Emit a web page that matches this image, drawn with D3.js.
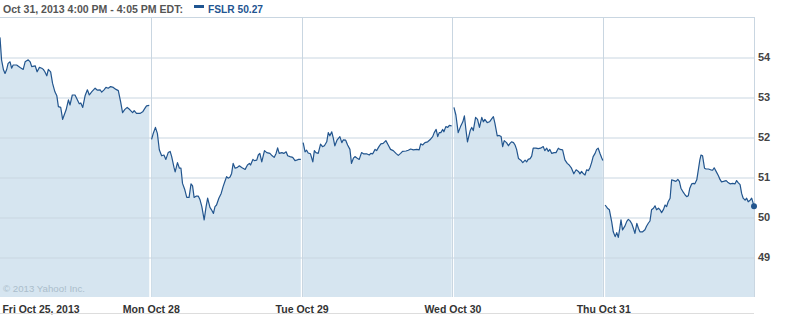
<!DOCTYPE html>
<html>
<head>
<meta charset="utf-8">
<script src="https://cdn.jsdelivr.net/npm/d3@7"></script>
<style>
  html, body { margin: 0; padding: 0; background: #fff; }
  svg { display: block; }
  text { font-family: "Liberation Sans", Arial, sans-serif; }
</style>
</head>
<body>
<svg id="chart" width="794" height="315"></svg>
<script>
// ---- DATA ----
const headerLabel = "Oct 31, 2013 4:00 PM - 4:05 PM EDT:";
const seriesName = "FSLR";
const lastPrice = 50.27;
const dayLabels = ["Fri Oct 25, 2013", "Mon Oct 28", "Tue Oct 29", "Wed Oct 30", "Thu Oct 31"];
const priceTicks = [49, 50, 51, 52, 53, 54];
const minutesPerSession = 390;
const copyright = "\u00A9 2013 Yahoo! Inc.";

// [minutes after 9:30 open, price]
const oct25 = [[0,54.49],[4,53.93],[9,53.68],[13,53.59],[17,53.68],[21,53.84],[26,53.88],[30,53.72],[34,53.8],[43,53.8],[52,53.74],[60,53.69],[65,53.88],[73,53.93],[78,53.88],[82,53.76],[91,53.78],[96,53.63],[102,53.74],[108,53.72],[112,53.69],[116,53.63],[121,53.53],[125,53.69],[131,53.63],[136,53.34],[142,53.13],[147,53.03],[151,52.76],[157,52.74],[162,52.44],[166,52.55],[171,52.68],[177,52.93],[181,52.8],[187,53.05],[194,53.05],[200,52.93],[205,52.83],[209,52.85],[214,52.74],[220,53.03],[226,53.18],[231,53.05],[237,53.13],[246,53.22],[252,53.17],[259,53.18],[263,53.12],[269,53.18],[274,53.24],[280,53.22],[286,53.26],[293,53.24],[300,53.19],[306,53.16],[312,52.88],[317,52.61],[323,52.69],[329,52.74],[336,52.68],[343,52.61],[347,52.66],[353,52.59],[362,52.59],[369,52.63],[375,52.72],[379,52.78],[386,52.79]];
const oct28 = [[2,51.94],[6,52.08],[12,52.24],[17,52.09],[22,51.68],[28,51.53],[34,51.55],[39,51.44],[45,51.61],[50,51.64],[54,51.51],[60,51.24],[63,51.13],[69,51.36],[74,51.22],[78,51.22],[82,50.84],[88,50.68],[93,50.49],[99,50.49],[104,50.83],[108,50.78],[112,50.49],[117,50.52],[123,50.52],[127,50.44],[132,50.26],[138,49.93],[143,50.26],[147,50.47],[153,50.24],[157,50.18],[162,50.09],[166,50.26],[170,50.3],[176,50.47],[182,50.59],[187,50.76],[192,50.9],[196,51.01],[200,50.97],[205,51.0],[209,51.09],[213,51.34],[218,51.22],[224,51.24],[229,51.28],[235,51.24],[244,51.19],[250,51.3],[255,51.34],[258,51.3],[264,51.44],[268,51.41],[274,51.42],[278,51.55],[282,51.59],[287,51.38],[294,51.66],[300,51.61],[308,51.59],[314,51.53],[319,51.49],[324,51.59],[328,51.73],[332,51.59],[339,51.61],[344,51.59],[350,51.63],[354,51.53],[360,51.51],[367,51.49],[373,51.41],[377,51.42],[382,51.44],[388,51.44]];
const oct29 = [[4,51.86],[9,51.63],[13,51.67],[17,51.6],[23,51.58],[29,51.38],[33,51.66],[37,51.61],[43,51.59],[49,51.82],[54,51.76],[59,51.78],[65,51.88],[69,52.11],[73,52.03],[78,52.13],[82,51.97],[86,51.78],[92,51.93],[99,52.01],[104,51.86],[108,51.93],[114,51.92],[119,51.8],[125,51.69],[129,51.34],[134,51.47],[138,51.51],[144,51.47],[149,51.44],[155,51.61],[160,51.58],[168,51.58],[175,51.55],[179,51.59],[184,51.58],[190,51.69],[194,51.66],[200,51.76],[205,51.83],[211,51.84],[218,51.91],[224,51.8],[230,51.69],[237,51.66],[244,51.59],[250,51.54],[256,51.59],[261,51.64],[270,51.65],[276,51.67],[282,51.7],[289,51.68],[298,51.69],[304,51.68],[308,51.83],[313,51.8],[319,51.86],[326,51.88],[332,51.93],[339,52.01],[343,52.11],[348,52.19],[352,52.01],[356,52.11],[360,52.11],[365,52.19],[368,52.13],[373,52.26],[378,52.24],[382,52.29],[388,52.28]];
const oct30 = [[4,52.74],[9,52.55],[15,52.11],[21,52.26],[27,52.38],[31,52.53],[35,52.18],[39,51.88],[46,52.16],[50,52.24],[54,52.16],[60,52.49],[65,52.44],[70,52.24],[76,52.49],[80,52.38],[84,52.44],[90,52.36],[96,52.38],[102,52.46],[106,52.51],[110,52.34],[116,52.03],[121,52.04],[126,52.01],[130,51.76],[134,51.91],[140,51.86],[145,51.78],[149,51.84],[153,51.88],[158,51.86],[162,51.8],[166,51.69],[171,51.46],[177,51.42],[182,51.36],[188,51.42],[192,51.38],[196,51.44],[201,51.46],[205,51.52],[209,51.72],[216,51.72],[222,51.71],[228,51.72],[235,51.76],[239,51.66],[244,51.72],[248,51.64],[252,51.69],[257,51.59],[263,51.61],[268,51.61],[274,51.72],[278,51.69],[285,51.68],[291,51.43],[297,51.34],[302,51.3],[308,51.22],[314,51.08],[320,51.18],[326,51.14],[330,51.08],[334,51.14],[339,51.08],[343,51.05],[347,51.18],[352,51.16],[356,51.24],[360,51.36],[364,51.51],[369,51.59],[373,51.69],[377,51.72],[382,51.58],[386,51.48],[389,51.41]];
const oct31 = [[5,50.3],[11,50.22],[16,50.18],[22,49.88],[26,49.63],[31,49.51],[35,49.61],[39,49.49],[43,49.72],[46,49.93],[50,49.68],[56,49.77],[61,49.89],[65,49.94],[69,49.91],[74,49.83],[78,49.72],[82,49.59],[87,49.84],[91,49.72],[95,49.63],[102,49.63],[108,49.68],[112,49.77],[117,49.85],[121,49.9],[125,50.18],[130,50.22],[134,50.28],[138,50.18],[143,50.22],[147,50.18],[151,50.11],[156,50.19],[160,50.3],[164,50.26],[168,50.38],[173,50.47],[177,50.93],[183,50.91],[188,50.89],[193,50.94],[197,50.89],[201,50.72],[207,50.62],[212,50.55],[216,50.51],[220,50.53],[224,50.72],[229,50.83],[233,50.84],[237,50.83],[242,50.93],[246,51.18],[250,51.43],[253,51.55],[257,51.53],[262,51.22],[266,51.2],[272,51.2],[278,51.18],[283,51.17],[287,51.23],[292,51.14],[298,51.03],[302,50.94],[306,50.88],[311,50.89],[318,50.91],[322,50.87],[328,50.83],[335,50.84],[341,50.83],[345,50.91],[349,50.86],[354,50.81],[358,50.59],[362,50.47],[367,50.42],[371,50.47],[375,50.38],[380,50.42],[384,50.47],[388,50.34],[390,50.27]];
const sessions = [oct25, oct28, oct29, oct30, oct31];

// ---- LAYOUT ----
const svg = d3.select("#chart");
const plot = { left: 0, right: 754, top: 17, bottom: 297 };

const x = d3.scaleLinear()
  .domain([0, sessions.length * minutesPerSession])
  .range([plot.left, plot.right]);
const y = d3.scaleLinear()
  .domain([48, 55])
  .range([plot.bottom, plot.top]);

const gridColor = "#c9d6e1";
const lineColor = "#22558e";
const fillColor = "#d6e5f0";

// day separator lines (under the fill)
const dayStarts = sessions.map((_, i) => i * minutesPerSession);
svg.append("g")
  .selectAll("line")
  .data(dayStarts.slice(1))
  .join("line")
  .attr("x1", d => Math.round(x(d)) + 0.5)
  .attr("x2", d => Math.round(x(d)) + 0.5)
  .attr("y1", plot.top)
  .attr("y2", plot.bottom)
  .attr("stroke", gridColor);

// areas per session
const area = d3.area()
  .x(d => x(d[0]))
  .y0(y(48))
  .y1(d => y(d[1]));
const line = d3.line()
  .x(d => x(d[0]))
  .y(d => y(d[1]));

const sessData = sessions.map((s, i) => s.map(p => [i * minutesPerSession + p[0], p[1]]));

svg.append("g")
  .selectAll("path")
  .data(sessData)
  .join("path")
  .attr("d", area)
  .attr("fill", fillColor);

// horizontal grid (over fill)
const gridAxis = d3.axisLeft(y)
  .tickValues(priceTicks)
  .tickSize(-(plot.right - plot.left))
  .tickFormat("");
const gGrid = svg.append("g")
  .attr("transform", `translate(${plot.left},0.5)`)
  .call(gridAxis);
gGrid.select(".domain").remove();
gGrid.selectAll(".tick line").attr("stroke", gridColor);

// top border and right border
svg.append("line")
  .attr("x1", 0).attr("x2", plot.right)
  .attr("y1", plot.top + 0.5).attr("y2", plot.top + 0.5)
  .attr("stroke", gridColor);
svg.append("line")
  .attr("x1", plot.right + 0.5).attr("x2", plot.right + 0.5)
  .attr("y1", plot.top).attr("y2", plot.bottom)
  .attr("stroke", gridColor);

// price line
svg.append("g")
  .selectAll("path")
  .data(sessData)
  .join("path")
  .attr("d", line)
  .attr("fill", "none")
  .attr("stroke", lineColor)
  .attr("stroke-width", 1.2)
  .attr("stroke-linejoin", "round");

// last point dot
const lastSess = sessData[sessData.length - 1];
const lastPt = lastSess[lastSess.length - 1];
svg.append("circle")
  .attr("cx", x(lastPt[0]))
  .attr("cy", y(lastPt[1]))
  .attr("r", 3)
  .attr("fill", lineColor);

// right price labels
const yAxis = d3.axisRight(y)
  .tickValues(priceTicks)
  .tickSize(0)
  .tickPadding(4)
  .tickFormat(d3.format("d"));
const gY = svg.append("g")
  .attr("transform", `translate(${plot.right},0)`)
  .call(yAxis);
gY.select(".domain").remove();
gY.selectAll("text")
  .attr("fill", "#444")
  .attr("font-weight", "bold")
  .attr("font-size", 11)
  .attr("font-family", "'Liberation Sans', Arial, sans-serif");

// bottom day labels
const labelWidths = [77, 57, 53, 57, 54];
const xAxis = d3.axisBottom(x)
  .tickValues(dayStarts)
  .tickSize(0)
  .tickPadding(8)
  .tickFormat((d, i) => dayLabels[i]);
const gX = svg.append("g")
  .attr("transform", `translate(0,${plot.bottom})`)
  .call(xAxis);
gX.select(".domain").remove();
gX.selectAll("text")
  .attr("fill", "#333")
  .attr("font-weight", "bold")
  .attr("font-size", 11)
  .attr("font-family", "'Liberation Sans', Arial, sans-serif")
  .attr("text-anchor", (d, i) => i === 0 ? "start" : "middle")
  .attr("dx", (d, i) => i === 0 ? 2 : 0)
  .attr("textLength", (d, i) => labelWidths[i])
  .attr("lengthAdjust", "spacingAndGlyphs");

// bottom rule
svg.append("line")
  .attr("x1", 0).attr("x2", plot.right)
  .attr("y1", 313.5).attr("y2", 313.5)
  .attr("stroke", "#dddddd");

// copyright
svg.append("text")
  .attr("x", 3).attr("y", 292)
  .attr("font-size", 9.5)
  .attr("fill", "#abbdcb")
  .attr("textLength", 82)
  .attr("lengthAdjust", "spacingAndGlyphs")
  .text(copyright);

// header
svg.append("text")
  .attr("x", 3).attr("y", 13)
  .attr("font-size", 11)
  .attr("font-weight", "bold")
  .attr("fill", "#555")
  .attr("textLength", 180)
  .attr("lengthAdjust", "spacingAndGlyphs")
  .text(headerLabel);
svg.append("rect")
  .attr("x", 194).attr("y", 5)
  .attr("width", 10).attr("height", 3)
  .attr("fill", "#1f5591");
svg.append("text")
  .attr("x", 208).attr("y", 13)
  .attr("font-size", 11)
  .attr("font-weight", "bold")
  .attr("fill", "#1f5591")
  .attr("textLength", 55)
  .attr("lengthAdjust", "spacingAndGlyphs")
  .text(`${seriesName} ${lastPrice.toFixed(2)}`);
</script>
</body>
</html>
